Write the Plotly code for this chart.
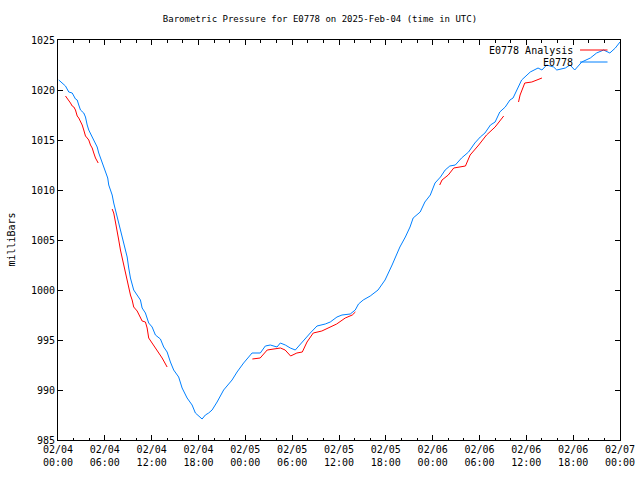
import pandas as pd
import plotly.graph_objects as go

BASE = "2025-02-04 00:00"

# Observed station pressure (E0778): hours since 02/04 00:00 UTC, millibars
obs_hours = [0.1, 0.54, 0.96, 1.38, 1.82, 2.24, 2.46, 2.66, 2.88, 3.3, 3.52, 3.74, 3.94,
             4.38, 4.58, 5.02, 5.22, 5.66, 6.08, 6.37, 6.5, 6.94, 7.14, 7.58, 8.0, 8.42,
             8.86, 9.06, 9.28, 9.7, 10.14, 10.56, 10.78, 11.2, 11.62, 12.06, 12.48, 13.12,
             13.54, 13.98, 14.4, 14.82, 15.46, 15.9, 16.54, 17.18, 17.6, 18.02, 18.46,
             18.88, 19.3, 19.74, 20.38, 21.22, 22.3, 22.94, 23.78, 24.86, 25.92, 26.56,
             27.2, 28.06, 28.48, 29.12, 29.76, 30.4, 30.62, 31.26, 32.32, 33.18, 34.24,
             34.88, 35.74, 36.38, 37.44, 38.08, 38.5, 39.1, 40.0, 41.0, 41.9, 42.8, 43.8,
             44.5, 45.1, 45.5, 46.4, 47.0, 47.7, 48.3, 49.0, 49.6, 50.2, 50.9, 51.7,
             52.6, 53.4, 54.1, 54.7, 55.4, 56.0, 56.6, 57.3, 57.9, 58.3, 59.4, 60.5,
             61.5, 62.0, 62.6, 63.5, 63.9, 65.0, 65.6, 66.2, 67.1, 68.2, 69.0, 69.9,
             70.7, 71.4, 72.0]
obs_mb = [1021.0, 1020.7, 1020.4, 1019.8, 1019.7, 1019.1, 1019.0, 1018.5, 1018.0, 1017.7,
          1017.3, 1016.5, 1016.0, 1015.3, 1015.0, 1014.3, 1013.7, 1012.8, 1011.8, 1011.2,
          1010.5, 1009.5, 1008.7, 1007.3, 1006.0, 1004.5, 1003.3, 1002.2, 1001.2, 1000.0,
          999.5, 999.0, 998.2, 997.7, 996.7, 996.3, 995.5, 995.1, 994.3, 993.8, 992.8,
          992.0, 991.3, 990.2, 989.2, 988.5, 987.7, 987.4, 987.1, 987.5, 987.7, 988.0,
          988.8, 990.0, 991.0, 991.8, 992.7, 993.7, 993.7, 994.4, 994.5, 994.3, 994.7,
          994.5, 994.2, 994.0, 994.2, 994.8, 995.7, 996.4, 996.6, 996.8, 997.3, 997.5,
          997.6, 998.0, 998.6, 999.0, 999.4, 1000.0, 1001.0, 1002.5, 1004.3, 1005.3,
          1006.3, 1007.2, 1007.8, 1008.8, 1009.5, 1010.7, 1011.3, 1012.0, 1012.4, 1012.5,
          1013.2, 1013.8, 1014.7, 1015.3, 1015.7, 1016.5, 1016.8, 1017.8, 1018.3, 1019.0,
          1019.2, 1021.0, 1021.8, 1022.2, 1022.0, 1022.5, 1022.3, 1022.0, 1022.2, 1022.5,
          1022.0, 1022.8, 1023.2, 1023.7, 1024.0, 1023.7, 1024.2, 1024.8]

# Analysis pressure (E0778 Analysis); None marks gaps between segments
ana_hours = [0.96, 1.17, 1.38, 1.6, 1.82, 2.03, 2.24, 2.46, 2.66, 2.88, 3.1, 3.3, 3.52,
             3.74, 3.94, 4.16, 4.38, 4.58, 4.8, 5.15, None,
             6.94, 7.14, 7.36, 7.58, 7.78, 8.0, 8.22, 8.42, 8.64, 8.86, 9.06, 9.28, 9.5,
             9.7, 10.14, 10.56, 10.78, 11.2, 11.42, 11.62, 12.06, 12.48, 12.9, 13.34,
             13.98, None,
             24.9, 25.9, 26.8, 28.5, 29.1, 29.8, 30.6, 31.3, 31.9, 32.7, 33.8, 34.9,
             35.7, 36.8, 37.7, 38.1, None,
             48.9, 49.2, 50.0, 50.7, 52.2, 52.8, 53.9, 54.9, 56.0, 57.1, None,
             59.0, 59.2, 59.8, 60.7, 62.0]
ana_mb = [1019.4, 1019.2, 1019.0, 1018.7, 1018.4, 1018.3, 1018.0, 1017.4, 1017.2, 1016.9,
          1016.5, 1016.0, 1015.4, 1015.2, 1015.0, 1014.5, 1014.2, 1013.7, 1013.2, 1012.7,
          None,
          1008.1, 1007.7, 1006.8, 1006.0, 1005.0, 1004.0, 1003.2, 1002.3, 1001.5, 1001.0,
          1000.3, 999.5, 999.0, 998.3, 997.9, 997.3, 996.9, 996.8, 996.2, 995.2, 994.7,
          994.2, 993.7, 993.2, 992.3, None,
          993.1, 993.2, 994.0, 994.2, 994.0, 993.4, 993.7, 993.8, 994.8, 995.7, 995.9,
          996.3, 996.6, 997.2, 997.5, 997.8, None,
          1010.5, 1011.0, 1011.5, 1012.2, 1012.4, 1013.5, 1014.5, 1015.5, 1016.3,
          1017.4, None,
          1018.8, 1019.5, 1020.7, 1020.8, 1021.2]

y_ticks = [985, 990, 995, 1000, 1005, 1010, 1015, 1020, 1025]

base = pd.Timestamp(BASE)
def to_time(hours):
    return [None if h is None else base + pd.Timedelta(hours=h) for h in hours]

RED = "#ff0000"
BLUE = "#0080ff"
FONT = "DejaVu Sans Mono"

fig = go.Figure()
fig.add_trace(go.Scatter(x=to_time(ana_hours), y=ana_mb, mode="lines",
                         line=dict(color=RED, width=1), connectgaps=False,
                         name="E0778 Analysis", showlegend=False))
fig.add_trace(go.Scatter(x=to_time(obs_hours), y=obs_mb, mode="lines",
                         line=dict(color=BLUE, width=1),
                         name="E0778", showlegend=False))

# gnuplot-style key: text left of the line sample
for label, color, yp in [("E0778 Analysis", RED, 0.975), ("E0778", BLUE, 0.945)]:
    fig.add_shape(type="line", xref="paper", yref="paper", x0=0.9289, x1=0.9778,
                  y0=yp, y1=yp, line=dict(color=color, width=1))
    fig.add_annotation(xref="paper", yref="paper", x=0.92, y=yp, text=label,
                       showarrow=False, xanchor="right", yanchor="middle",
                       font=dict(family=FONT, size=10, color="black"))

fig.add_annotation(xref="paper", yref="paper", x=-0.0844, y=0.5, text="milliBars",
                   textangle=-90, showarrow=False, xanchor="center", yanchor="middle",
                   font=dict(family=FONT, size=10, color="black"))

fig.update_layout(
    width=640, height=480,
    margin=dict(l=57.5, r=20, t=40, b=40, autoexpand=False),
    paper_bgcolor="white", plot_bgcolor="white",
    font=dict(family=FONT, size=10, color="black"),
    title=dict(text="Barometric Pressure for E0778 on 2025-Feb-04 (time in UTC)",
               x=0.5, xanchor="center", y=1 - 19 / 480, yanchor="middle",
               yref="container", automargin=False,
               font=dict(family=FONT, size=9, color="black")),
    showlegend=False,
)
fig.update_xaxes(
    type="date", range=[base, base + pd.Timedelta(hours=72)], automargin=False,
    dtick=6 * 3600 * 1000, tick0=base, tickformat="%m/%d<br>%H:%M",
    ticks="inside", ticklen=5, tickcolor="black", tickwidth=1,
    minor=dict(dtick=2 * 3600 * 1000, ticks="inside", ticklen=2.5, tickcolor="black"),
    showline=True, linecolor="black", linewidth=1, mirror="allticks",
    showgrid=False, zeroline=False,
)
fig.update_yaxes(
    range=[985, 1025], tickvals=y_ticks, ticktext=[str(v) for v in y_ticks],
    automargin=False,
    ticks="inside", ticklen=5, tickcolor="black", tickwidth=1,
    showline=True, linecolor="black", linewidth=1, mirror="allticks",
    showgrid=False, zeroline=False,
)

fig.write_html("out.html", config={"displayModeBar": False},
               post_script="document.body.style.margin='0';document.body.style.overflow='hidden';")
